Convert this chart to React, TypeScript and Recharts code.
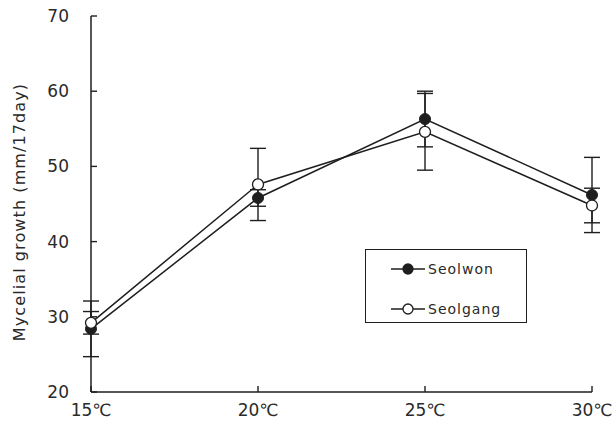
import { ErrorBar, Legend, Line, LineChart, XAxis, YAxis } from "recharts";

const temps = [15, 20, 25, 30];
const tempLabels = ["15℃", "20℃", "25℃", "30℃"];
const seolwon = [28.4, 45.8, 56.3, 46.2];
const seolwonErr = [3.7, 1.1, 3.7, 5.0];
const seolgang = [29.2, 47.6, 54.6, 44.8];
const seolgangErr = [1.5, 4.8, 5.1, 2.3];
const yTicks = [20, 30, 40, 50, 60, 70];
const yTitle = "Mycelial growth (mm/17day)";

const data = temps.map((t, i) => ({
  temp: t,
  seolwon: seolwon[i],
  seolwonErr: seolwonErr[i],
  seolgang: seolgang[i],
  seolgangErr: seolgangErr[i],
}));

const INK = "#1e1e1e";
const TEXT = "#2a2a2a";
const FONT = "'DejaVu Sans', sans-serif";
const Y_MARGIN = 22;
const X_MARGIN = 8;

function YTick(props: any) {
  const { x, y, payload } = props;
  const ax = x + Y_MARGIN;
  return (
    <g>
      <line x1={ax} x2={ax + 6} y1={y} y2={y} stroke={INK} strokeWidth={1.4} />
      <text x={x} y={y} dy={6} textAnchor="end" fill={TEXT} fontSize={17} fontFamily={FONT}>
        {payload.value}
      </text>
    </g>
  );
}

function XTick(props: any) {
  const { x, y, payload } = props;
  const ay = y - X_MARGIN;
  const label = tempLabels[temps.indexOf(payload.value)];
  return (
    <g>
      <line x1={x} x2={x} y1={ay} y2={ay - 6} stroke={INK} strokeWidth={1.4} />
      <text x={x} y={ay + 24} textAnchor="middle" fill={TEXT} fontSize={17} fontFamily={FONT}>
        {label}
      </text>
    </g>
  );
}

function YTitle(props: any) {
  const { viewBox } = props;
  const cx = viewBox.x + 25;
  const cy = viewBox.y + viewBox.height / 2 + 8;
  return (
    <text
      x={cx}
      y={cy}
      transform={`rotate(-90 ${cx} ${cy})`}
      textAnchor="middle"
      fontFamily={FONT}
      fontSize={16}
      letterSpacing={1.1}
      fill={TEXT}
    >
      {yTitle}
    </text>
  );
}

function LegendBox() {
  const items = [
    { name: "Seolwon", fill: INK },
    { name: "Seolgang", fill: "#fff" },
  ];
  return (
    <div
      style={{
        width: 162,
        height: 74,
        boxSizing: "border-box",
        border: `1.5px solid ${INK}`,
        background: "#fff",
        position: "relative",
      }}
    >
      {items.map((it, i) => (
        <div
          key={it.name}
          style={{
            position: "absolute",
            left: 24,
            top: 10 + i * 40,
            height: 18,
            display: "flex",
            alignItems: "center",
          }}
        >
          <svg width={36} height={14}>
            <line x1={1} x2={35} y1={7} y2={7} stroke={INK} strokeWidth={1.4} />
            <circle cx={18} cy={7} r={5} fill={it.fill} stroke={INK} strokeWidth={1.3} />
          </svg>
          <span
            style={{
              marginLeft: 2,
              fontFamily: FONT,
              fontSize: 14,
              letterSpacing: 1,
              color: TEXT,
            }}
          >
            {it.name}
          </span>
        </div>
      ))}
    </div>
  );
}

export default function App() {
  return (
    <div style={{ position: "absolute", left: 0, top: 0, width: 616, height: 430, background: "#fff" }}>
      <LineChart width={616} height={430} data={data} margin={{ top: 16, right: 24, bottom: 0, left: 0 }}>
        <XAxis
          dataKey="temp"
          type="number"
          domain={[15, 30]}
          ticks={temps}
          height={38}
          tickSize={0}
          tickMargin={X_MARGIN}
          tick={<XTick />}
          axisLine={{ stroke: INK, strokeWidth: 1.5 }}
          tickLine={false}
        />
        <YAxis
          type="number"
          domain={[20, 70]}
          ticks={yTicks}
          width={91}
          tickSize={0}
          tickMargin={Y_MARGIN}
          tick={<YTick />}
          axisLine={{ stroke: INK, strokeWidth: 1.5 }}
          tickLine={false}
          label={{ content: <YTitle /> }}
        />
        <Legend
          layout="vertical"
          align="center"
          verticalAlign="middle"
          content={<LegendBox />}
          wrapperStyle={{ left: 365, top: 249, width: 162 }}
        />
        <Line
          dataKey="seolwon"
          name="Seolwon"
          type="linear"
          stroke={INK}
          strokeWidth={1.5}
          dot={{ r: 5.5, fill: INK, stroke: INK, strokeWidth: 1 }}
          activeDot={false}
          isAnimationActive={false}
        >
          <ErrorBar dataKey="seolwonErr" width={8} stroke={INK} strokeWidth={1.4} direction="y" />
        </Line>
        <Line
          dataKey="seolgang"
          name="Seolgang"
          type="linear"
          stroke={INK}
          strokeWidth={1.5}
          dot={{ r: 5.5, fill: "#fff", stroke: INK, strokeWidth: 1.3 }}
          activeDot={false}
          isAnimationActive={false}
        >
          <ErrorBar dataKey="seolgangErr" width={8} stroke={INK} strokeWidth={1.4} direction="y" />
        </Line>
      </LineChart>
    </div>
  );
}
